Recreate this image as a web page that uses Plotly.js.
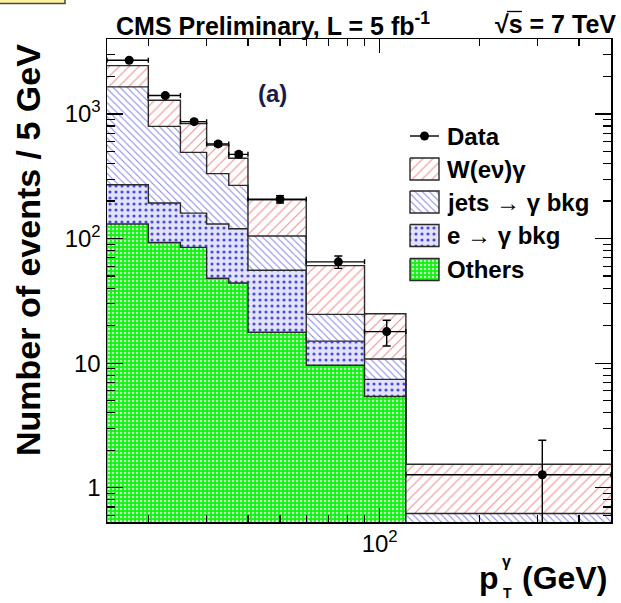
<!DOCTYPE html>
<html>
<head>
<meta charset="utf-8">
<script src="https://cdn.plot.ly/plotly-3.0.1.min.js"></script>
<style>
  html, body { margin: 0; padding: 0; background: #ffffff; }
  #plot { width: 621px; height: 603px; }
</style>
</head>
<body>
<div id="plot"></div>
<script>
// ---- photon pT binning (GeV) ----
const binEdges = [15, 20, 25, 30, 35, 40, 60, 90, 120, 500];

// ---- stacked predictions, events / 5 GeV ----
const others      = [131, 93, 85, 48, 44, 17.7, 9.6, 5.4, 0];
const eToGamma    = [139, 100, 75, 83, 76, 38, 5.4, 2.0, 0];
const jetsToGamma = [1380, 603, 332, 201, 147, 49, 9.6, 3.4, 0.62];
const wEnuGamma   = [797, 493, 346, 232, 174, 100, 36, 14.1, 0.92];

// ---- observed data, events / 5 GeV ----
const dataCounts = [2700, 1406, 868, 575, 474, 207, 65, 17.9, 1.27];
const dataErrors = [52, 37, 29, 24, 22, 14, 7.4, 4.2, 1.13];

// ---- axis ticks ----
const xTickVals  = [100];
const xTickText  = ['10<sup>2</sup>'];
const xMinorVals = [20, 30, 40, 50, 60, 70, 80, 90, 200, 300, 400];
const yTickVals  = [1, 10, 100, 1000];
const yTickText  = ['1', '10', '10<sup>2</sup>', '10<sup>3</sup>'];
const yMinorVals = [];
[0.1, 1, 10, 100, 1000].forEach(d => {
  for (let m = 2; m <= 9; m++) {
    const v = +(d * m).toPrecision(3);
    if (v > 0.53 && v < 4000) yMinorVals.push(v);
  }
});

// ---- frame geometry (pixels) ----
const W = 621, H = 603;
const FL = 107, FR = 611, FT = 39, FB = 522;
const px = x => (x - FL) / (FR - FL);
const py = y => (FB - y) / (FB - FT);

const FONT = 'Liberation Sans, Arial, Helvetica, sans-serif';
const FLOOR = 0.1;   // below the visible y range, base of the stack

const layers = [
  { name: 'Others',       vals: others,
    fill: '#12f212', pat: { shape: '.', fgcolor: '#c4ffc4', bgcolor: '#12f212', size: 4, solidity: 0.3 } },
  { name: 'e \u2192 \u03b3 bkg', vals: eToGamma,
    fill: '#e0e0fa', pat: { shape: '.', fgcolor: '#4a4adc', bgcolor: '#e2e2fb', size: 6, solidity: 0.22 } },
  { name: 'jets \u2192 \u03b3 bkg', vals: jetsToGamma,
    fill: '#ffffff', pat: { shape: '\\', fgcolor: '#8484ea', bgcolor: '#ffffff', size: 5, solidity: 0.2 } },
  { name: 'W(e\u03bd)\u03b3', vals: wEnuGamma,
    fill: '#ffffff', pat: { shape: '/', fgcolor: '#f29090', bgcolor: '#ffffff', size: 7, solidity: 0.16 } }
];

const traces = [];
// stack base
traces.push({
  x: binEdges, y: binEdges.map(() => FLOOR),
  mode: 'lines', line: { width: 0, shape: 'hv' },
  hoverinfo: 'skip', showlegend: false
});

const running = new Array(binEdges.length - 1).fill(0);
layers.forEach(L => {
  L.vals.forEach((v, i) => { running[i] += v; });
  const tops = running.map(v => Math.max(v, FLOOR));
  traces.push({
    x: binEdges, y: tops.concat([tops[tops.length - 1]]),
    mode: 'lines', line: { color: '#2a2a2a', width: 1.4, shape: 'hv' },
    fill: 'tonexty', fillcolor: L.fill, fillpattern: L.pat,
    name: L.name, hoverinfo: 'skip', showlegend: false
  });
});

// data points with bin-width x errors
const centers = binEdges.slice(0, -1).map((lo, i) => (lo + binEdges[i + 1]) / 2);
const halfW   = binEdges.slice(0, -1).map((lo, i) => (binEdges[i + 1] - lo) / 2);
traces.push({
  x: centers, y: dataCounts, mode: 'markers', name: 'Data',
  marker: { color: '#000000', size: 9 },
  error_x: { type: 'data', array: halfW, color: '#000000', thickness: 1.4, width: 2.5 },
  error_y: { type: 'data', array: dataErrors, color: '#000000', thickness: 1.4, width: 4 },
  showlegend: false
});

// ---- hand-drawn legend on an overlay frame ----
const legX0 = 410, legX1 = 439, legTextX = 445;
const legRows = [
  { label: 'Data', y: 136, kind: 'data' },
  { label: 'W(e\u03bd)\u03b3', y: 169, layer: 3 },
  { label: 'jets \u2192 \u03b3 bkg', y: 202, layer: 2 },
  { label: 'e \u2192 \u03b3 bkg', y: 235.5, layer: 1 },
  { label: 'Others', y: 269.5, layer: 0 }
];
const boxHalf = 11;
legRows.forEach(r => {
  if (r.kind === 'data') {
    traces.push({
      x: [px(legX0), px(legX1)], y: [py(r.y), py(r.y)], xaxis: 'x2', yaxis: 'y2',
      mode: 'lines', line: { color: '#000', width: 1.4 }, hoverinfo: 'skip', showlegend: false
    });
    traces.push({
      x: [px((legX0 + legX1) / 2)], y: [py(r.y)], xaxis: 'x2', yaxis: 'y2',
      mode: 'markers', marker: { color: '#000', size: 9 }, hoverinfo: 'skip', showlegend: false
    });
  } else {
    const L = layers[r.layer];
    const y0 = py(r.y - boxHalf), y1 = py(r.y + boxHalf);
    traces.push({
      x: [px(legX0), px(legX1), px(legX1), px(legX0), px(legX0)],
      y: [y0, y0, y1, y1, y0], xaxis: 'x2', yaxis: 'y2',
      mode: 'lines', fill: 'toself', fillcolor: L.fill, fillpattern: L.pat,
      line: { color: '#2a2a2a', width: 1.4 }, hoverinfo: 'skip', showlegend: false
    });
  }
});

const annotations = [];
legRows.forEach(r => {
  annotations.push({
    xref: 'paper', yref: 'paper', x: px(legTextX), y: py(r.y),
    xanchor: 'left', yanchor: 'middle', showarrow: false, text: r.label,
    font: { family: FONT, size: 24, color: '#000', weight: 'bold' }
  });
});

// titles and labels
annotations.push(
  { xref: 'paper', yref: 'paper', x: px(114), y: py(24), xanchor: 'left', yanchor: 'middle',
    showarrow: false, text: 'CMS Preliminary, L = 5 fb<sup>-1</sup>',
    font: { family: FONT, size: 25, color: '#000', weight: 'bold' } },
  { xref: 'paper', yref: 'paper', x: px(618), y: py(24), xanchor: 'right', yanchor: 'middle',
    showarrow: false, text: '\u221As = 7 TeV',
    font: { family: FONT, size: 25, color: '#000', weight: 'bold' } },
  { xref: 'paper', yref: 'paper', x: px(272), y: py(93), xanchor: 'center', yanchor: 'middle',
    showarrow: false, text: '(a)',
    font: { family: FONT, size: 24, color: '#1a1a48', weight: 'bold' } },
  { xref: 'paper', yref: 'paper', x: px(28), y: py(250), xanchor: 'center', yanchor: 'middle',
    showarrow: false, textangle: -90, text: 'Number of events / 5 GeV',
    font: { family: FONT, size: 34, color: '#000', weight: 'bold' } },
  { xref: 'paper', yref: 'paper', x: px(501), y: py(578), xanchor: 'right', yanchor: 'middle',
    showarrow: false, text: 'p',
    font: { family: FONT, size: 32, color: '#000', weight: 'bold' } },
  { xref: 'paper', yref: 'paper', x: px(500), y: py(561), xanchor: 'left', yanchor: 'middle',
    showarrow: false, text: '\u03b3',
    font: { family: FONT, size: 16, color: '#000', weight: 'bold' } },
  { xref: 'paper', yref: 'paper', x: px(500.5), y: py(593), xanchor: 'left', yanchor: 'middle',
    showarrow: false, text: 'T',
    font: { family: FONT, size: 14, color: '#000', weight: 'bold' } },
  { xref: 'paper', yref: 'paper', x: px(609), y: py(578), xanchor: 'right', yanchor: 'middle',
    showarrow: false, text: '(GeV)',
    font: { family: FONT, size: 32, color: '#000', weight: 'bold' } }
);

const shapes = [
  // corner label box, partly off the canvas
  { type: 'rect', xref: 'paper', yref: 'paper',
    x0: px(-2), x1: px(65), y0: py(-20), y1: py(3.5),
    fillcolor: '#fbf3a2', line: { color: '#4a4a3a', width: 1.5 } },
  // overbar of the square-root sign
  { type: 'line', xref: 'paper', yref: 'paper',
    x0: px(507), x1: px(522), y0: py(11.5), y1: py(11.5),
    line: { color: '#000', width: 1.3 } }
];

const axisCommon = {
  showgrid: false, zeroline: false, showline: true, linecolor: '#000', linewidth: 1.5,
  mirror: 'allticks', ticks: 'inside', tickcolor: '#000', tickwidth: 1.2
};

const layout = {
  width: W, height: H,
  margin: { l: FL, r: W - FR, t: FT, b: H - FB, pad: 0 },
  paper_bgcolor: '#ffffff', plot_bgcolor: '#ffffff',
  showlegend: false,
  font: { family: FONT, color: '#000' },
  xaxis: Object.assign({}, axisCommon, {
    type: 'log', range: [Math.log10(15), Math.log10(500)],
    tickmode: 'array', tickvals: xTickVals, ticktext: xTickText, ticklen: 14,
    tickfont: { family: FONT, size: 24, color: '#000' },
    minor: { tickmode: 'array', tickvals: xMinorVals, ticks: 'inside', ticklen: 7,
             tickcolor: '#000', tickwidth: 1.2, showgrid: false }
  }),
  yaxis: Object.assign({}, axisCommon, {
    type: 'log', range: [Math.log10(0.53), Math.log10(4000)],
    tickmode: 'array', tickvals: yTickVals, ticktext: yTickText, ticklen: 16,
    tickfont: { family: FONT, size: 24, color: '#000' },
    minor: { tickmode: 'array', tickvals: yMinorVals, ticks: 'inside', ticklen: 8,
             tickcolor: '#000', tickwidth: 1.2, showgrid: false }
  }),
  xaxis2: { overlaying: 'x', anchor: 'y2', range: [0, 1], visible: false, fixedrange: true },
  yaxis2: { overlaying: 'y', anchor: 'x2', range: [0, 1], visible: false, fixedrange: true },
  annotations: annotations,
  shapes: shapes
};

Plotly.newPlot('plot', traces, layout, { displayModeBar: false, staticPlot: true });
</script>
</body>
</html>
